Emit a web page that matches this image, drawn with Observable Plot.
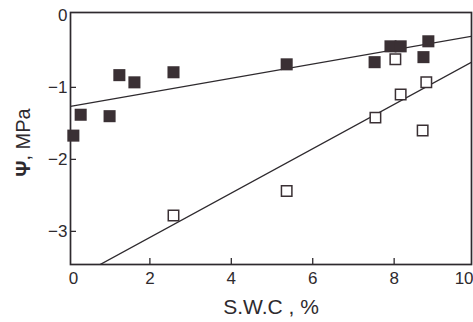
<!DOCTYPE html>
<html><head><meta charset="utf-8">
<script src="https://cdn.jsdelivr.net/npm/d3@7"></script>
<script src="https://cdn.jsdelivr.net/npm/@observablehq/plot@0.6"></script>
<style>body{margin:0;background:#fff;}</style>
</head><body><div id="chart"></div>
<script>
// Filled squares (top series)
const filledX = [0.12, 0.30, 1.01, 1.25, 1.62, 2.58, 5.36, 7.52, 7.91, 8.16, 8.84, 8.72];
const filledY = [-1.67, -1.38, -1.40, -0.83, -0.93, -0.79, -0.68, -0.65, -0.43, -0.43, -0.36, -0.58];
// Open squares (bottom series)
const openX = [2.58, 5.36, 7.54, 8.03, 8.16, 8.79, 8.70];
const openY = [-2.78, -2.44, -1.42, -0.61, -1.10, -0.93, -1.60];
// Fitted lines
const fitFilled = {intercept: -1.27, slope: 0.099};
const fitOpen = {intercept: -3.70, slope: 0.308};
// Axes
const xTicksInner = [2, 4, 6, 8];
const xTickFirst = [0];
const xTickLast = [10];
const yTicks = [0, -1, -2, -3];
const yTickMarks = [-1, -2, -3];
const xDomain = [0.05, 9.9];
const yDomain = [-3.46, 0.04];
const xLabel = "S.W.C , %";
const yLabel = "Ψ, MPa";

const W = 473, H = 322;
const mL = 70, mR = 2, mT = 12, mB = 58;
const ink = "#2e2a2e";
const sq = "#3a3034";
const tickFont = 17;

const filled = filledX.map((x, i) => ({x, y: filledY[i]}));
const open = openX.map((x, i) => ({x, y: openY[i]}));
const lineFor = f => xDomain.map(x => ({x, y: f.intercept + f.slope * x}));

const xPerPx = (xDomain[1] - xDomain[0]) / (W - mL - mR);
const yPerPx = (yDomain[1] - yDomain[0]) / (H - mT - mB);
const fmt = d => (d < 0 ? "\u2212" + Math.abs(d) : String(d));

const chart = Plot.plot({
  width: W, height: H,
  marginLeft: mL, marginRight: mR, marginTop: mT, marginBottom: mB,
  style: {fontFamily: "'Liberation Sans', Arial, sans-serif", color: ink, background: "#fff"},
  x: {domain: xDomain},
  y: {domain: yDomain},
  marks: [
    Plot.line(lineFor(fitFilled), {x: "x", y: "y", stroke: ink, strokeWidth: 1.3, clip: true}),
    Plot.line(lineFor(fitOpen), {x: "x", y: "y", stroke: ink, strokeWidth: 1.3, clip: true}),
    Plot.ruleX(xTicksInner, {y1: yDomain[0], y2: yDomain[0] + 6 * yPerPx, stroke: ink, strokeWidth: 1.3}),
    Plot.ruleY(yTickMarks, {x1: xDomain[0], x2: xDomain[0] + 6 * xPerPx, stroke: ink, strokeWidth: 1.3}),
    Plot.axisX({ticks: xTicksInner, tickSize: 0, tickPadding: 7, fontSize: tickFont, tickFormat: fmt, label: null}),
    Plot.axisX({ticks: xTickFirst, tickSize: 0, tickPadding: 7, fontSize: tickFont, tickFormat: fmt, label: null, dx: 5}),
    Plot.axisX({ticks: xTickLast, tickSize: 0, tickPadding: 7, fontSize: tickFont, tickFormat: fmt, label: null, textAnchor: "end", dx: -2}),
    Plot.axisY({ticks: yTicks, tickSize: 0, tickPadding: 3, fontSize: tickFont, tickFormat: fmt, label: null}),
    Plot.frame({stroke: ink, strokeWidth: 1.7}),
    Plot.dot(open, {x: "x", y: "y", symbol: "square", r: 5.9, fill: "#fff", stroke: sq, strokeWidth: 1.5}),
    Plot.dot(filled, {x: "x", y: "y", symbol: "square", r: 6.8, fill: sq, stroke: "none"}),
    Plot.text([xLabel], {text: d => d, frameAnchor: "bottom", textAnchor: "middle", dy: 43, fontSize: 21, lineAnchor: "middle", fill: ink}),
    Plot.text([yLabel], {text: d => d, frameAnchor: "left", textAnchor: "middle", dx: -47, dy: 4, rotate: -90, fontSize: 20, lineAnchor: "middle", fill: ink})
  ]
});
document.getElementById("chart").appendChild(chart);
// bold the Greek psi in the y label
d3.select(chart).selectAll("text").each(function() {
  if (this.textContent === yLabel) {
    const t = d3.select(this);
    t.text(null);
    t.append("tspan").attr("font-weight", "bold").text("Ψ");
    t.append("tspan").text(", MPa");
  }
});
</script>
</body></html>
